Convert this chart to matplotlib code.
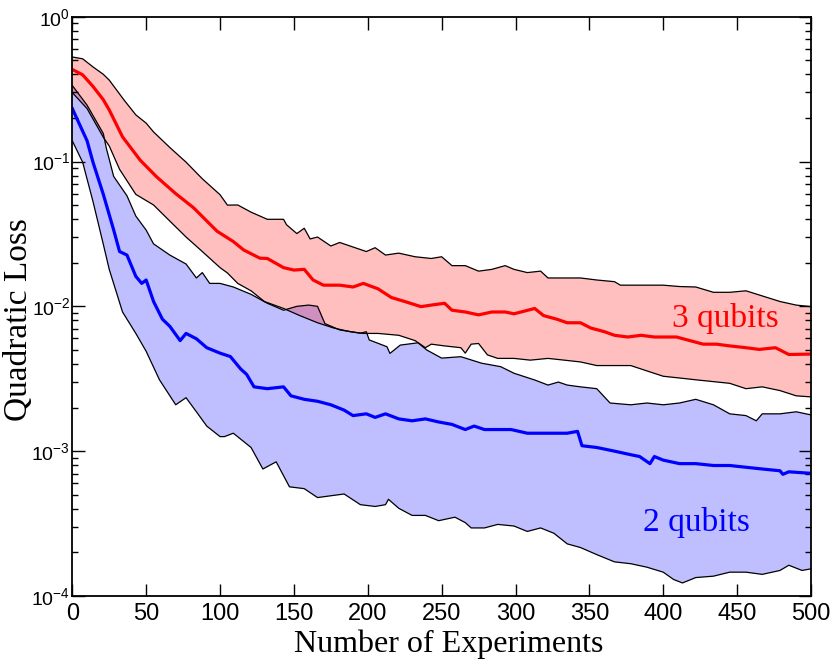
import matplotlib
matplotlib.use("Agg")
import matplotlib.pyplot as plt

# values (x = number of experiments, y = quadratic loss)

red_up_x = [0, 7, 14, 21, 25, 35, 43, 50, 55, 66, 77, 88, 100, 105, 112, 121, 132, 143, 145, 152, 157,
            161, 166, 175, 181, 188, 199, 205, 212, 221, 232, 243, 250, 257, 266, 275, 284, 293, 299,
            308, 317, 322, 333, 344, 355, 367, 371, 380, 389, 400, 411, 422, 434, 445, 456, 467, 479,
            490, 500]
red_up = [0.527, 0.512, 0.450, 0.400, 0.365, 0.266, 0.210, 0.184, 0.160, 0.125, 0.0990, 0.0760,
          0.0590, 0.0500, 0.0501, 0.0447, 0.0399, 0.0399, 0.0366, 0.0318, 0.0346, 0.0292, 0.0301,
          0.0261, 0.0276, 0.0261, 0.0239, 0.0254, 0.0226, 0.0233, 0.0220, 0.0214, 0.0220, 0.0191,
          0.0191, 0.0175, 0.0180, 0.0191, 0.0180, 0.0171, 0.0175, 0.0157, 0.0157, 0.0157, 0.0152,
          0.0148, 0.0140, 0.0140, 0.0140, 0.0140, 0.0137, 0.0136, 0.0125, 0.0125, 0.0128, 0.0118,
          0.0108, 0.0102, 0.00995]

red_mid_x = [0, 7, 14, 21, 25, 34, 46, 57, 70, 82, 98, 109, 116, 127, 132, 143, 150,
             157, 163, 170, 181, 190, 197, 207, 216, 225, 236, 243, 252, 257, 266, 275, 284, 293,
             299, 313, 319, 328, 335, 344, 351, 360, 367, 376, 385, 394, 409, 418, 427, 436, 445,
             456, 465, 476, 485, 500]
red_mid = [0.432, 0.397, 0.330, 0.267, 0.227, 0.148, 0.102, 0.0785, 0.0600, 0.0480, 0.0330, 0.0280,
           0.0245, 0.0215, 0.0214, 0.0185, 0.0178, 0.0180, 0.0152, 0.0140,
           0.0140, 0.0136, 0.0144, 0.0132, 0.0115, 0.0108, 0.00995, 0.0102, 0.0105, 0.0094, 0.00914,
           0.00873, 0.00914, 0.00914, 0.00888, 0.00967, 0.00863, 0.00815, 0.00770, 0.00770, 0.00708,
           0.00669, 0.00631, 0.00614, 0.00631, 0.00614, 0.00614, 0.00580, 0.00548, 0.00548, 0.00533,
           0.00518, 0.00504, 0.00518, 0.00465, 0.00468]

red_lo_x = [0, 10, 21, 25, 32, 43, 55, 66, 77, 88, 100, 105, 112, 121, 130, 143, 154, 166, 177, 188,
            197, 207, 221, 232, 239, 243, 252, 263, 266, 270, 275, 281, 288, 299, 310, 322, 333, 344,
            355, 367, 378, 389, 400, 411, 422, 434, 445, 456, 467, 479, 490, 500]
red_lo = [0.299, 0.232, 0.147, 0.128, 0.0883, 0.0593, 0.0501, 0.0388, 0.0301, 0.0239, 0.0185, 0.0170,
          0.0144, 0.0128, 0.0108, 0.00967, 0.00863, 0.00770, 0.00708, 0.00669, 0.00650, 0.00650,
          0.00631, 0.00580, 0.00518, 0.00548, 0.00533, 0.00518, 0.00475, 0.00548, 0.00554, 0.00462,
          0.00437, 0.00437, 0.00425, 0.00437, 0.00425, 0.00413, 0.00390, 0.00390, 0.00390, 0.00358,
          0.00329, 0.00320, 0.00311, 0.00302, 0.00294, 0.00270, 0.00278, 0.00262, 0.00241, 0.00237]

blue_up_x = [0, 10, 21, 23, 28, 37, 43, 50, 55, 66, 77, 84, 88, 93, 100, 109, 121, 132, 143, 152,
             160, 166, 171, 181, 195, 199, 201, 213, 215, 222, 234, 240, 250, 263, 277, 290, 299,
             313, 322, 329, 335, 344, 355, 364, 378, 389, 400, 411, 422, 434, 445, 456, 463, 467,
             479, 490, 500]
blue_up = [0.335, 0.245, 0.156, 0.124, 0.0789, 0.058, 0.042, 0.0336, 0.0270, 0.0226, 0.0196, 0.0157,
           0.0171, 0.0144, 0.0144, 0.0136, 0.0121, 0.0105, 0.0094, 0.0100, 0.0102, 0.0100, 0.00760,
           0.00687, 0.00652, 0.00668, 0.00586, 0.00526, 0.00473, 0.00540, 0.00560, 0.00499, 0.00439,
           0.00449, 0.00405, 0.00383, 0.00345, 0.00310, 0.00286, 0.00300, 0.00286, 0.00278, 0.00270,
           0.00215, 0.00209, 0.00215, 0.00209, 0.00215, 0.00228, 0.00209, 0.00181, 0.00176, 0.00162,
           0.00181, 0.00181, 0.00187, 0.00178]

blue_mid_x = [0, 10, 14, 21, 28, 32, 37, 43, 47, 50, 55, 61, 66, 73, 77, 84, 91, 100, 107, 114, 118,
              123, 132, 143, 148, 157, 166, 175, 184, 190, 199, 205, 212, 221, 230, 239, 248, 257,
              266, 272, 279, 288, 297, 308, 317, 326, 335, 342, 345, 355, 367, 378, 384, 391, 394,
              400, 411, 422, 434, 445, 456, 467, 479, 481, 485, 500]
blue_mid = [0.232, 0.139, 0.0989, 0.0593, 0.0337, 0.0239, 0.0226, 0.0161, 0.0144, 0.0152, 0.0108,
            0.00815, 0.00728, 0.00580, 0.00650, 0.00597, 0.00518, 0.00475, 0.00450, 0.00369, 0.00339,
            0.00278, 0.00270, 0.00278, 0.00241, 0.00228, 0.00221, 0.00209, 0.00192, 0.00176, 0.00181,
            0.00171, 0.00181, 0.00167, 0.00162, 0.00167, 0.00159, 0.00153, 0.00141, 0.00149, 0.00141,
            0.00141, 0.00141, 0.00133, 0.00133, 0.00133, 0.00133, 0.00137, 0.00109, 0.00106, 0.00100,
            0.000945, 0.000918, 0.000820, 0.000918, 0.000867, 0.000820, 0.000820, 0.000796, 0.000796,
            0.000774, 0.000753, 0.000732, 0.000692, 0.000720, 0.000703]

blue_lo_x = [0, 7, 14, 21, 25, 34, 43, 50, 59, 70, 77, 84, 91, 100, 103, 109, 121, 129, 138, 147, 157,
             166, 175, 184, 195, 205, 212, 214, 221, 230, 239, 248, 259, 266, 270, 279, 288, 299, 308,
             317, 326, 335, 344, 355, 367, 378, 389, 400, 407, 413, 422, 434, 445, 456, 467, 479, 485,
             494, 500]
blue_lo = [0.139, 0.0989, 0.0530, 0.0268, 0.0180, 0.00914, 0.00650, 0.00489, 0.00311, 0.00209, 0.00234,
           0.00187, 0.00149, 0.00126, 0.00126, 0.00133, 0.00106, 0.000753, 0.000844, 0.000567,
           0.000551, 0.000478, 0.000492, 0.000506, 0.000427, 0.000415, 0.000427, 0.000465, 0.000403,
           0.000360, 0.000360, 0.000331, 0.000350, 0.000321, 0.000295, 0.000295, 0.000312, 0.000304,
           0.000279, 0.000295, 0.000271, 0.000229, 0.000216, 0.000193, 0.000172, 0.000167, 0.000158,
           0.000146, 0.000130, 0.000123, 0.000134, 0.000137, 0.000146, 0.000146, 0.000141, 0.000150,
           0.000163, 0.000150, 0.000154]

plt.rcParams["font.family"] = ["Liberation Sans", "DejaVu Sans"]
plt.rcParams["mathtext.fontset"] = "custom"
plt.rcParams["mathtext.rm"] = "Liberation Sans"
plt.rcParams["mathtext.it"] = "Liberation Sans"
plt.rcParams["mathtext.bf"] = "Liberation Sans"

fig = plt.figure(figsize=(8.31, 6.65), dpi=100)
ax = fig.add_axes([0.087, 0.1038, 0.8889, 0.8711])

# bands: blue first, red on top so the overlap turns purple
ax.fill(blue_up_x + blue_lo_x[::-1], blue_up + blue_lo[::-1], color="blue", alpha=0.25, lw=0)
ax.fill(red_up_x + red_lo_x[::-1], red_up + red_lo[::-1], color="red", alpha=0.25, lw=0)

for xs, ys in [(blue_up_x, blue_up), (blue_lo_x, blue_lo), (red_up_x, red_up), (red_lo_x, red_lo)]:
    ax.plot(xs, ys, color="black", lw=0.9)

ax.plot(red_mid_x, red_mid, color="red", lw=2.3)
ax.plot(blue_mid_x, blue_mid, color="blue", lw=2.3)

ax.text(406, 0.0083, "3 qubits", color="red", fontsize=24, va="center", family="Liberation Serif")
ax.text(386, 0.000324, "2 qubits", color="blue", fontsize=24, va="center", family="Liberation Serif")

ax.set_yscale("log")
ax.set_xlim(0, 500)
ax.set_ylim(1e-4, 1)
ax.set_xticks(range(0, 501, 50))

ax.tick_params(which="both", direction="in", top=True, right=True, width=1)
ax.tick_params(which="major", length=9)
ax.tick_params(which="minor", length=4.5)
ax.tick_params(axis="x", labelsize=17, pad=5)
ax.tick_params(axis="y", labelsize=14, pad=1.5)
for s in ax.spines.values():
    s.set_linewidth(1.3)

ax.set_xlabel("Number of Experiments", fontsize=23, family="Liberation Serif")
ax.set_ylabel("Quadratic Loss", fontsize=24, family="Liberation Serif")
ax.xaxis.set_label_coords(0.51, -0.058)
ax.yaxis.set_label_coords(-0.052, 0.477)

fig.savefig("out.png", dpi=100)
